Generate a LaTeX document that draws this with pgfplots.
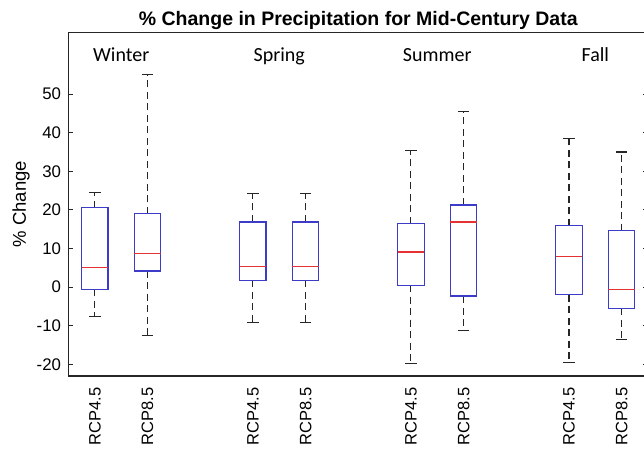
\documentclass[border=0pt]{standalone}
\usepackage{fontspec}
\setmainfont{Liberation Sans}
\newfontfamily\carlito{Carlito}
\usepackage{pgfplots}
\pgfplotsset{compat=1.18}
\usepgfplotslibrary{statistics}
\usetikzlibrary{calc}
\definecolor{boxblue}{RGB}{60,60,200}
\definecolor{medred}{RGB}{228,50,50}
\pgfplotsset{
  boxplot/draw/whisker/.code 2 args={
    \draw[black!85, line width=1.1pt, dash pattern=on 7pt off 4.5pt]
      (boxplot cs:#1) -- (boxplot cs:#2);
    \draw[black!85, line width=1.1pt]
      (boxplot whisker cs:#2,0) -- (boxplot whisker cs:#2,1);
  },
}
\begin{document}
\begin{tikzpicture}
\begin{axis}[name=ax,
  width=579.5pt, height=343.7pt, scale only axis,
  xmin=0.5, xmax=11.5, ymin=-23.0, ymax=66.0,
  ytick={-20,-10,0,10,20,30,40,50},
  xtick={1,2,4,5,7,8,10,11},
  xticklabels={RCP4.5,RCP8.5,RCP4.5,RCP8.5,RCP4.5,RCP8.5,RCP4.5,RCP8.5},
  x tick label style={yshift=-8pt, rotate=90, anchor=east, font=\fontsize{16.5}{19}\selectfont},
  y tick label style={xshift=-4pt, font=\fontsize{16.8}{19}\selectfont},
  xtick style={draw=none},
  ytick style={black!85, line width=1pt},
  tick align=inside, major tick length=5pt,
  /pgf/number format/assume math mode=true,
  ylabel={\% Change},
  ylabel style={font=\fontsize{18.5}{21}\selectfont},
  axis line style={black!85, line width=1.1pt},
  boxplot/draw direction=y,
  boxplot/box extend=0.5,
  boxplot/whisker extend=0.22,
  boxplot/every box/.style={draw=boxblue, line width=1.2pt},
  boxplot/every median/.style={draw=medred, line width=1.2pt},
]
% Winter
\addplot[boxplot prepared={draw position=1, lower whisker=-7.7, lower quartile=-0.6, median=5.1, upper quartile=20.6, upper whisker=24.5}] coordinates {};
\addplot[boxplot prepared={draw position=2, lower whisker=-12.5, lower quartile=4.2, median=8.7, upper quartile=19.0, upper whisker=55.1}] coordinates {};
% Spring
\addplot[boxplot prepared={draw position=4, lower whisker=-9.2, lower quartile=1.8, median=5.3, upper quartile=16.9, upper whisker=24.2}] coordinates {};
\addplot[boxplot prepared={draw position=5, lower whisker=-9.2, lower quartile=1.8, median=5.3, upper quartile=16.9, upper whisker=24.2}] coordinates {};
% Summer
\addplot[boxplot prepared={draw position=7, lower whisker=-19.7, lower quartile=0.5, median=9.1, upper quartile=16.4, upper whisker=35.3}] coordinates {};
\addplot[boxplot prepared={draw position=8, lower whisker=-11.2, lower quartile=-2.3, median=16.9, upper quartile=21.3, upper whisker=45.4}] coordinates {};
% Fall
\addplot[boxplot prepared={draw position=10, lower whisker=-19.6, lower quartile=-2.0, median=8.0, upper quartile=15.9, upper whisker=38.4}] coordinates {};
\addplot[boxplot prepared={draw position=11, lower whisker=-13.5, lower quartile=-5.5, median=-0.6, upper quartile=14.6, upper whisker=35.0}] coordinates {};
\node[anchor=base, font=\carlito\fontsize{20}{23}\selectfont] at (axis cs:1.5,58.4) {Winter};
\node[anchor=base, font=\carlito\fontsize{20}{23}\selectfont] at (axis cs:4.5,58.4) {Spring};
\node[anchor=base, font=\carlito\fontsize{20}{23}\selectfont] at (axis cs:7.5,58.4) {Summer};
\node[anchor=base, font=\carlito\fontsize{20}{23}\selectfont] at (axis cs:10.5,58.4) {Fall};
\end{axis}
\node[anchor=base, font=\bfseries\fontsize{19.5}{22}\selectfont] at ($(ax.north west)!0.5!(ax.north east)+(0,7pt)$) {\% Change in Precipitation for Mid-Century Data};
\pgfresetboundingbox
\useasboundingbox ($(ax.south west)+(-68.5pt,-74pt)$) rectangle ($(ax.north east)+(-4pt,32.3pt)$);
\end{tikzpicture}
\end{document}
